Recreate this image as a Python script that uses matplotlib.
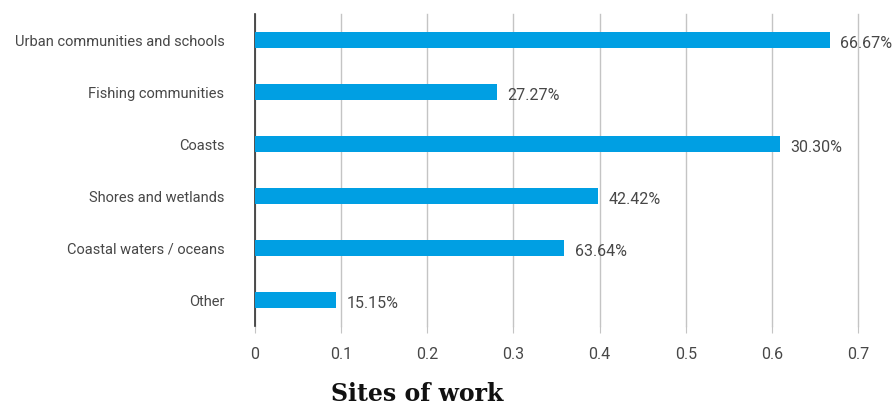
import matplotlib
matplotlib.use("Agg")
import matplotlib.pyplot as plt

plt.rcParams["font.family"] = ["Roboto", "DejaVu Sans"]

# categories top to bottom, bar lengths as shares, and the printed labels
sites = [
    "Urban communities and schools",
    "Fishing communities",
    "Coasts",
    "Shores and wetlands",
    "Coastal waters / oceans",
    "Other",
]
share = [0.667, 0.281, 0.609, 0.398, 0.359, 0.094]
pct_labels = ["66.67%", "27.27%", "30.30%", "42.42%", "63.64%", "15.15%"]
x_ticks = [0, 0.1, 0.2, 0.3, 0.4, 0.5, 0.6, 0.7]

BAR = "#009FE3"
INK = "#474747"

fig = plt.figure(figsize=(8.93, 4.05), dpi=100)
ax = fig.add_axes([0.2856, 0.195, 0.6752, 0.7704])

ypos = range(len(sites))
ax.barh(ypos, share, height=0.3, color=BAR, zorder=3)
for y, v, lab in zip(ypos, share, pct_labels):
    ax.annotate(lab, (v, y), xytext=(7.5, -2.5), textcoords="offset points",
                va="center", ha="left", fontsize=11.5, color=INK)

ax.set_xlim(0, 0.7)
ax.set_ylim(len(sites) - 0.5, -0.5)
ax.set_yticks(list(ypos))
ax.set_yticklabels(sites)
ax.set_xticks(x_ticks)
ax.set_xticklabels([f"{t:g}" for t in x_ticks])

ax.grid(axis="x", color="#c4c4c4", linewidth=1.0, zorder=0)
for gl in ax.get_xgridlines():
    gl.set_clip_on(False)
for side in ("top", "right", "bottom"):
    ax.spines[side].set_visible(False)
ax.spines["left"].set_color("#333333")
ax.spines["left"].set_linewidth(1.2)
ax.tick_params(axis="y", length=0, pad=22, labelsize=10.5, labelcolor=INK)
ax.tick_params(axis="x", length=5, color="#c4c4c4", pad=10, labelsize=11.5, labelcolor=INK)

fig.text(0.4675, 0.01, "Sites of work", ha="center", va="baseline",
         fontsize=17, fontweight="bold", family="DejaVu Serif", color="#111111")

fig.savefig("out.png", dpi=100)
